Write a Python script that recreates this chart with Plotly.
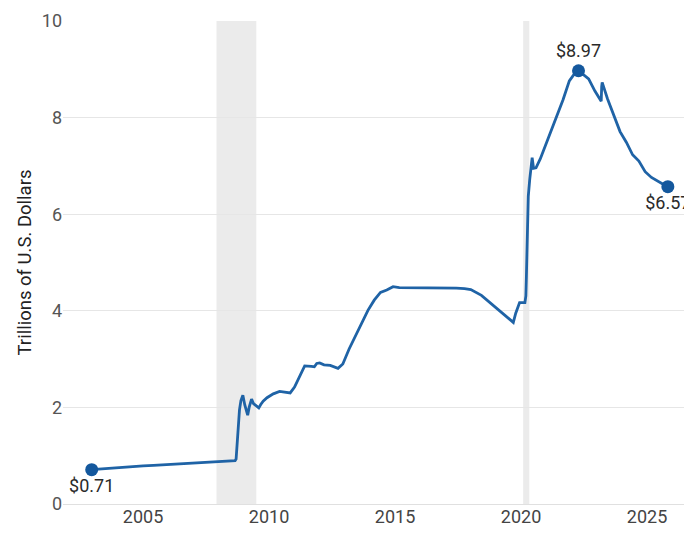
import plotly.graph_objects as go

dates = [
    "2002-12-18", "2003-06-01", "2004-01-01", "2004-06-01", "2005-01-01", "2005-06-01",
    "2006-01-01", "2006-06-01", "2007-01-01", "2007-06-01", "2007-12-01", "2008-04-01",
    "2008-08-27", "2008-09-10", "2008-09-24", "2008-10-08", "2008-10-29", "2008-11-19",
    "2008-12-17", "2009-01-14", "2009-02-25", "2009-03-18", "2009-04-22", "2009-05-20",
    "2009-06-17", "2009-08-05", "2009-09-02", "2009-10-07", "2009-12-02", "2010-03-03",
    "2010-06-02", "2010-09-01", "2010-11-03", "2011-01-05", "2011-03-02", "2011-06-01",
    "2011-09-07", "2011-10-19", "2011-11-23", "2012-01-04", "2012-03-07", "2012-06-06",
    "2012-09-26", "2012-12-05", "2013-03-06", "2013-06-05", "2013-09-04", "2013-12-04",
    "2014-03-05", "2014-06-04", "2014-09-03", "2014-12-03", "2015-03-04", "2015-06-03",
    "2015-12-02", "2016-06-01", "2016-12-07", "2017-06-07", "2017-10-04", "2018-01-03",
    "2018-06-06", "2019-01-02", "2019-06-05", "2019-09-11", "2019-10-16", "2019-12-11",
    "2020-02-26", "2020-03-11", "2020-03-18", "2020-03-25", "2020-04-01", "2020-04-15",
    "2020-05-06", "2020-06-10", "2020-07-01", "2020-08-05", "2020-10-07", "2020-12-02",
    "2021-03-03", "2021-06-02", "2021-09-01", "2021-12-01", "2022-03-02", "2022-04-13",
    "2022-06-01", "2022-09-07", "2022-12-07", "2023-03-08", "2023-03-15", "2023-03-22",
    "2023-06-07", "2023-09-06", "2023-12-06", "2024-03-06", "2024-06-05", "2024-09-04",
    "2024-12-04", "2025-03-05", "2025-06-04", "2025-09-03", "2025-10-29",
]
assets = [
    0.71, 0.73, 0.75, 0.77, 0.79, 0.80,
    0.82, 0.83, 0.85, 0.86, 0.88, 0.89,
    0.90, 0.93, 1.25, 1.60, 1.95, 2.14,
    2.25, 2.05, 1.84, 2.00, 2.17, 2.08,
    2.05, 1.99, 2.06, 2.13, 2.20, 2.28,
    2.33, 2.31, 2.30, 2.42, 2.60, 2.86,
    2.85, 2.84, 2.91, 2.92, 2.88, 2.87,
    2.81, 2.90, 3.21, 3.48, 3.74, 4.01,
    4.22, 4.38, 4.43, 4.50, 4.48, 4.48,
    4.48, 4.48, 4.47, 4.47, 4.46, 4.44,
    4.32, 4.07, 3.87, 3.76, 3.95, 4.17,
    4.17, 4.31, 4.67, 5.30, 5.81, 6.37,
    6.72, 7.17, 6.95, 6.96, 7.15, 7.36,
    7.69, 8.06, 8.37, 8.76, 8.94, 8.97,
    8.91, 8.80, 8.55, 8.34, 8.64, 8.73,
    8.39, 8.03, 7.71, 7.49, 7.23, 7.10,
    6.88, 6.76, 6.68, 6.61, 6.57,
]

recessions = [("2007-12-01", "2009-06-30"), ("2020-02-01", "2020-04-30")]

label_dates = ["2002-12-18", "2022-04-13", "2025-10-29"]
label_values = [0.71, 8.97, 6.57]
label_texts = ["$0.71", "$8.97", "$6.57"]
label_pos = ["bottom center", "top center", "bottom center"]

line_color = "#1f63a6"
marker_color = "#14589d"

fig = go.Figure()

for start, end in recessions:
    fig.add_vrect(x0=start, x1=end, fillcolor="#ebebeb", opacity=1,
                  line_width=0, layer="below")

fig.add_trace(go.Scatter(
    x=dates, y=assets, mode="lines",
    line=dict(color=line_color, width=2.8),
    hoverinfo="skip", showlegend=False,
))

fig.add_trace(go.Scatter(
    x=label_dates, y=label_values, mode="markers+text",
    marker=dict(color=marker_color, size=13),
    text=label_texts, textposition=label_pos,
    textfont=dict(size=18, color="#2a2a2a", family="Roboto"),
    showlegend=False, cliponaxis=False,
))

fig.update_layout(
    width=692, height=538,
    margin=dict(l=55, r=8, t=13, b=42),
    plot_bgcolor="white", paper_bgcolor="white",
    font=dict(family="Roboto", size=18, color="#555555"),
    xaxis=dict(
        range=["2001-10-28", "2026-10-14"],
        tick0="2005-01-01", dtick="M60", tickformat="%Y",
        showgrid=False, zeroline=False, showline=False,
        ticks="", tickfont=dict(size=18, color="#444444"),
        automargin=False,
    ),
    yaxis=dict(
        range=[0, 10], dtick=2,
        showgrid=True, gridcolor="#e6e6e6", gridwidth=1,
        zeroline=True, zerolinecolor="#e0e0e0", zerolinewidth=1,
        ticks="", tickfont=dict(size=18, color="#555555"),
        ticklabeloverflow="allow", automargin=False,
        title=dict(text="Trillions of U.S. Dollars", standoff=5,
                   font=dict(size=18.5, color="#222222")),
    ),
)

fig.write_html("out.html")
